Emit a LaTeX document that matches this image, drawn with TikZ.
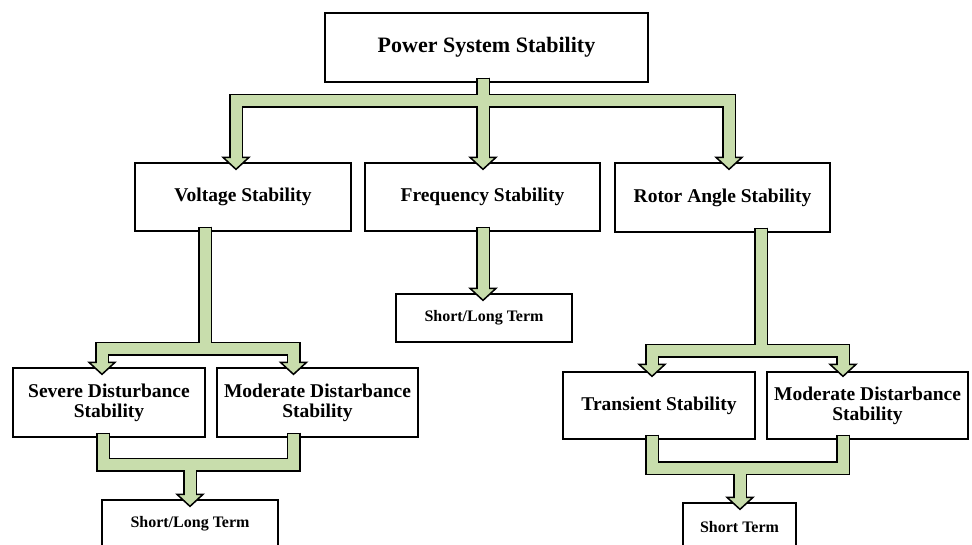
\documentclass[tikz,border=0pt]{standalone}
\usepackage{fontspec}
\setmainfont{Liberation Serif}
\usetikzlibrary{calc}
\definecolor{armgreen}{RGB}{200,221,172}
\tikzset{
  box/.style={draw, line width=1.3pt, fill=white, align=center, inner sep=0pt,
    font=\bfseries\fontsize{19.5}{20}\selectfont},
  bigbox/.style={box, font=\bfseries\fontsize{22}{24}\selectfont},
  smallbox/.style={box, font=\bfseries\fontsize{16}{18}\selectfont},
  tube/.style={line width=14pt, line join=miter, line cap=butt},
  tubefill/.style={line width=11pt, draw=armgreen, line join=miter, line cap=butt, shorten <=1.5pt},
  head/.style={fill=armgreen, draw=black, line width=1.5pt, line join=miter}
}
\begin{document}
\begin{tikzpicture}[x=1pt,y=1pt]
\fill[white] (0,0) rectangle (972,545);
\useasboundingbox (0,0) rectangle (972,545);
\node[bigbox,minimum width=323pt,minimum height=69pt] (pss) at (486.5,497.5) {Power System Stability};
\node[box,minimum width=216pt,minimum height=68pt] (volt) at (243,348) {Voltage Stability};
\node[box,minimum width=235pt,minimum height=68pt] (freq) at (482.5,348) {Frequency Stability};
\node[box,minimum width=215pt,minimum height=69pt] (rot) at (722.5,347.5) {Rotor Angle Stability};
\node[box,minimum width=192pt,minimum height=69pt] (sev) at (109,142.5) {Severe Disturbance\\Stability};
\node[box,minimum width=201pt,minimum height=69pt] (modl) at (317.5,142.5) {Moderate Distarbance\\Stability};
\node[box,minimum width=192pt,minimum height=67pt] (tra) at (659,139.5) {Transient Stability};
\node[box,minimum width=201pt,minimum height=67pt] (modr) at (867.5,139.5) {Moderate Distarbance\\Stability};
\node[smallbox,minimum width=176pt,minimum height=48pt] (stm) at (484,227) {Short/Long Term};
\node[smallbox,minimum width=176pt,minimum height=48pt] (stl) at (190,21) {Short/Long Term};
\node[smallbox,minimum width=113pt,minimum height=48pt] (str) at (739.5,18) {Short Term};

\coordinate (pss-out) at ([xshift=-3.5pt,yshift=5pt]pss.south);
\coordinate (volt-in) at ([xshift=-7pt,yshift=-7pt]volt.north);
\coordinate (freq-in) at ([xshift=0.5pt,yshift=-7pt]freq.north);
\coordinate (rot-in) at ([xshift=6.5pt,yshift=-7pt]rot.north);
\coordinate (volt-out) at ([xshift=-38pt,yshift=5pt]volt.south);
\coordinate (freq-out) at ([xshift=0.5pt,yshift=5pt]freq.south);
\coordinate (rot-out) at ([xshift=38.5pt,yshift=5pt]rot.south);
\coordinate (sev-in) at ([xshift=-7pt,yshift=-7pt]sev.north);
\coordinate (modl-in) at ([xshift=-24pt,yshift=-7pt]modl.north);
\coordinate (stm-in) at ([xshift=-1pt,yshift=-7pt]stm.north);
\coordinate (tra-in) at ([xshift=-7pt,yshift=-5pt]tra.north);
\coordinate (modr-in) at ([xshift=-24.5pt,yshift=-5pt]modr.north);
\coordinate (sev-out) at ([xshift=-6pt,yshift=5pt]sev.south);
\coordinate (modl-out) at ([xshift=-24pt,yshift=5pt]modl.south);
\coordinate (stl-in) at ([yshift=-7pt]stl.north);
\coordinate (tra-out) at ([xshift=-7pt,yshift=5pt]tra.south);
\coordinate (modr-out) at ([xshift=-24.5pt,yshift=5pt]modr.south);
\coordinate (str-in) at ([xshift=0.5pt,yshift=-7pt]str.north);

\def\arms{
 {(pss-out) -- ++(0,-23) -| ($(volt-in)+(0,10)$)},
 {(pss-out) -- ($(freq-in)+(0,10)$)},
 {(pss-out) -- ++(0,-23) -| ($(rot-in)+(0,10)$)},
 {(volt-out) -- ++(0,-122) -| ($(sev-in)+(0,10)$)},
 {(volt-out) -- ++(0,-122) -| ($(modl-in)+(0,10)$)},
 {(freq-out) -- ($(stm-in)+(0,10)$)},
 {(rot-out) -- ++(0,-123) -| ($(tra-in)+(0,10)$)},
 {(rot-out) -- ++(0,-123) -| ($(modr-in)+(0,10)$)},
 {(sev-out) -- ++(0,-32) -| ($(stl-in)+(0,10)$)},
 {(modl-out) -- ++(0,-32) -| ($(stl-in)+(0,10)$)},
 {(tra-out) -- ++(0,-33.5) -| ($(str-in)+(0,10)$)},
 {(modr-out) -- ++(0,-33.5) -| ($(str-in)+(0,10)$)}}
\foreach \p in \arms \draw[tube] \p;
\foreach \t in {volt-in,freq-in,rot-in,sev-in,modl-in,stm-in,tra-in,modr-in,stl-in,str-in}
  \filldraw[head] (\t) ++(-13,12) -- (\t) -- ++(13,12) -- cycle;
\foreach \p in \arms \draw[tubefill] \p;
\end{tikzpicture}
\end{document}
